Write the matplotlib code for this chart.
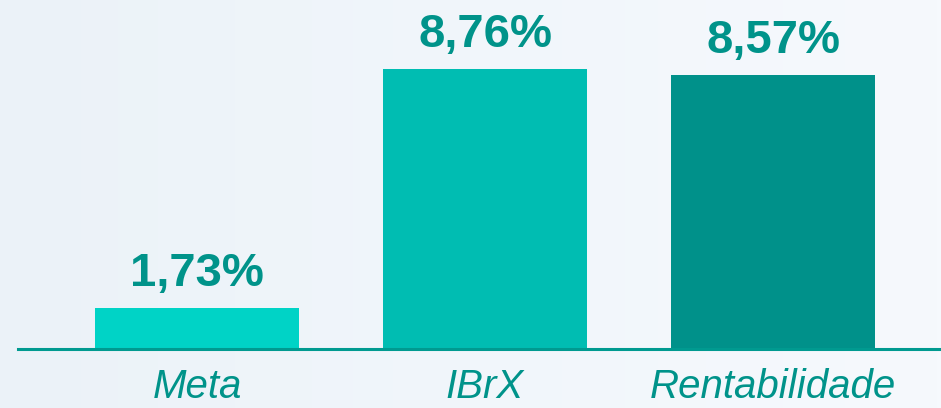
import numpy as np
import matplotlib.pyplot as plt
from matplotlib.colors import LinearSegmentedColormap

plt.rcParams["font.family"] = ["Liberation Sans", "DejaVu Sans"]

categorias = ["Meta", "IBrX", "Rentabilidade"]
valores = [1.73, 8.76, 8.57]
rotulos = ["1,73%", "8,76%", "8,57%"]
cores = ["#00D3C6", "#00BDB2", "#00918A"]
cor_texto = "#00938A"

W, H = 941, 408
fig = plt.figure(figsize=(W / 100, H / 100), dpi=100)

# fundo com leve gradiente azulado
bg = fig.add_axes([0, 0, 1, 1])
grad = np.linspace(0, 1, 256).reshape(1, -1)
cmap = LinearSegmentedColormap.from_list("bg", ["#EBF2F8", "#F1F6FB", "#F6F9FD"])
bg.imshow(grad, aspect="auto", cmap=cmap, extent=[0, 1, 0, 1])
bg.axis("off")

# eixo principal
base_y = 349
ax = fig.add_axes([18 / W, 1 - base_y / H, (W - 18) / W, base_y / H])
ax.patch.set_alpha(0)
x = np.arange(len(categorias))
base = 0.525
ax.bar(x, valores, width=0.71, color=cores, bottom=0)
ax.set_ylim(base, base + base_y / 34.0)
ax.set_xlim((18 - 197) / 288, (941 - 197) / 288)

for xi, v, r in zip(x, valores, rotulos):
    ax.annotate(r, (xi, v), xytext=(0, 9), textcoords="offset points",
                ha="center", va="bottom", fontsize=34, fontweight="bold",
                color=cor_texto)

ax.set_xticks(x)
ax.set_xticklabels(categorias, fontsize=29, fontstyle="italic", color=cor_texto)
ax.tick_params(axis="x", length=0, pad=14)
ax.set_yticks([])
for s in ["top", "right", "left"]:
    ax.spines[s].set_visible(False)
ax.spines["bottom"].set_color("#009A90")
ax.spines["bottom"].set_linewidth(2.2)

fig.savefig("out.png", dpi=100)
